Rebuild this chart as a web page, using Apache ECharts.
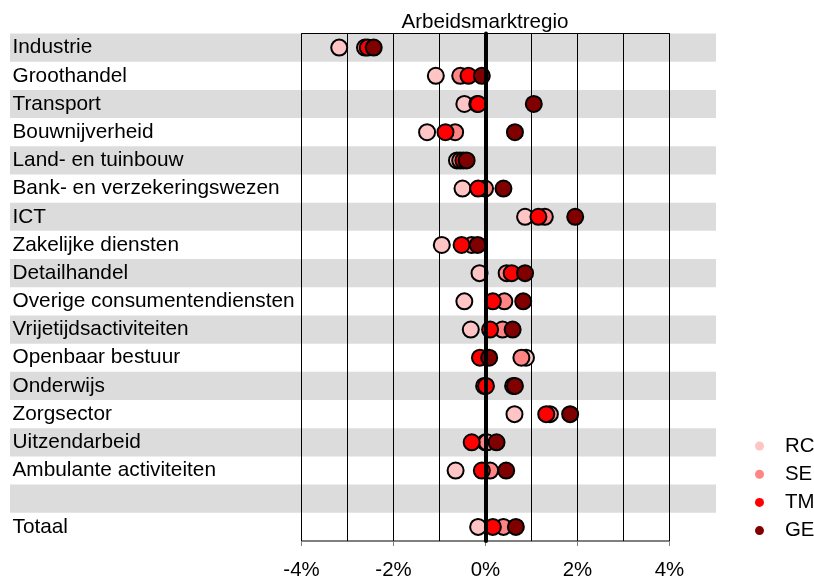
<!DOCTYPE html>
<html>
<head>
<meta charset="utf-8">
<script src="https://cdn.jsdelivr.net/npm/echarts@6/dist/echarts.min.js"></script>
<style>
  html, body { margin: 0; padding: 0; background: #fff; }
  #chart { width: 814px; height: 581px; }
</style>
</head>
<body>
<div id="chart"></div>
<script>
// Sectors, top to bottom; the empty entry is a spacer row before the total.
const categories = [
  'Industrie', 'Groothandel', 'Transport', 'Bouwnijverheid',
  'Land- en tuinbouw', 'Bank- en verzekeringswezen', 'ICT',
  'Zakelijke diensten', 'Detailhandel', 'Overige consumentendiensten',
  'Vrijetijdsactiviteiten', 'Openbaar bestuur', 'Onderwijs', 'Zorgsector',
  'Uitzendarbeid', 'Ambulante activiteiten', '', 'Totaal'
];

// Employment growth (%) per labour-market region
const rc = [-3.18, -1.08, -0.46, -1.27, -0.62, -0.50, 0.86, -0.95, -0.13, -0.46, -0.32, 0.88, -0.03, 0.63, 0.00, -0.65, null, -0.16];
const se = [-2.62, -0.55, -0.18, -0.66, -0.55, -0.01, 1.29, -0.30, 0.46, 0.41, 0.37, 0.78, 0.60, 1.40, 0.03, 0.10, null, 0.39];
const tm = [-2.56, -0.37, -0.16, -0.87, -0.48, -0.16, 1.15, -0.52, 0.57, 0.16, 0.10, -0.12, 0.01, 1.32, -0.30, -0.08, null, 0.16];
const ge = [-2.43, -0.08, 1.05, 0.64, -0.41, 0.39, 1.95, -0.17, 0.86, 0.82, 0.59, 0.08, 0.64, 1.84, 0.24, 0.45, null, 0.66];

const regionNames = ['RC', 'SE', 'TM', 'GE'];
const regionValues = [rc, se, tm, ge];
const regionColors = ['#ffc4c4', '#ff8585', '#ff0000', '#800000'];

const xTicks = [-4, -2, 0, 2, 4];

const FONT = '"Liberation Sans", Arial, sans-serif';
const FS = 20.8;

function points(values) {
  const out = [];
  values.forEach((v, i) => { if (v !== null) out.push([v, i]); });
  return out;
}

const chart = echarts.init(document.getElementById('chart'), null, { renderer: 'canvas' });

const scatterSeries = regionNames.map((name, k) => ({
  name: name,
  type: 'scatter',
  xAxisIndex: 0,
  yAxisIndex: 0,
  z: 3,
  symbol: 'circle',
  symbolSize: 16,
  itemStyle: { color: regionColors[k], borderColor: '#000', borderWidth: 2, opacity: 1 },
  emphasis: { disabled: true },
  data: points(regionValues[k])
}));

chart.setOption({
  animation: false,
  textStyle: { fontFamily: FONT },
  title: {
    text: 'Arbeidsmarktregio',
    left: 480,
    textAlign: 'center',
    top: 7,
    textStyle: { fontFamily: FONT, fontSize: 20.6, fontWeight: 'normal', color: '#000' }
  },
  legend: {
    data: regionNames,
    orient: 'vertical',
    left: 750,
    top: 429,
    icon: 'circle',
    itemWidth: 9,
    itemHeight: 9,
    itemGap: 4.2,
    itemStyle: { borderWidth: 0 },
    textStyle: { fontFamily: FONT, fontSize: 20.4, color: '#000', lineHeight: 24, padding: [0, 0, 0, 16] }
  },
  grid: [
    { left: 301.5, right: 144.5, top: 33.5, bottom: 40, show: true, borderColor: '#000', borderWidth: 1, backgroundColor: 'transparent', containLabel: false },
    { left: 10, right: 98, top: 33.5, bottom: 40, containLabel: false }
  ],
  xAxis: [
    {
      type: 'value', gridIndex: 0,
      min: -4, max: 4, interval: 2,
      axisLine: { show: true, onZero: false, lineStyle: { color: '#808080', width: 1 } },
      axisTick: { show: true, length: 5, lineStyle: { color: '#808080' } },
      axisLabel: {
        margin: 19, fontFamily: FONT, fontSize: 20.4, color: '#000',
        formatter: v => (xTicks.indexOf(v) >= 0 ? v + '%' : '')
      },
      splitLine: { show: true, lineStyle: { color: '#000', width: 1 } },
      minorTick: { show: false, splitNumber: 2 },
      minorSplitLine: { show: true, lineStyle: { color: '#000', width: 1 } }
    },
    {
      type: 'value', gridIndex: 1, min: 0, max: 1, show: false
    }
  ],
  yAxis: [
    {
      type: 'category', gridIndex: 0, data: categories, inverse: true,
      axisLine: { show: true, lineStyle: { color: '#000', width: 1 } },
      axisTick: { show: false },
      axisLabel: {
        align: 'left', margin: 289, fontFamily: FONT, fontSize: FS, color: '#000', interval: 0
      },
      splitLine: { show: false }
    },
    {
      type: 'category', gridIndex: 1, data: categories, inverse: true, show: false
    }
  ],
  series: [
    {
      // alternating row shading across label column and plot
      name: 'rows',
      type: 'bar',
      xAxisIndex: 1,
      yAxisIndex: 1,
      z: -1,
      silent: true,
      barWidth: '100%',
      barCategoryGap: 0,
      itemStyle: { color: '#dcdcdc' },
      data: categories.map((c, i) => (i % 2 === 0 ? 1 : 0))
    },
    {
      // bold reference line at 0%
      name: 'zero',
      type: 'scatter',
      xAxisIndex: 0,
      yAxisIndex: 0,
      z: 1,
      symbolSize: 0,
      silent: true,
      data: [],
      markLine: {
        silent: true,
        symbol: ['none', 'none'],
        label: { show: false },
        lineStyle: { color: '#000', width: 4, type: 'solid', cap: 'round' },
        data: [{ xAxis: 0 }]
      }
    }
  ].concat(scatterSeries)
});
</script>
</body>
</html>
